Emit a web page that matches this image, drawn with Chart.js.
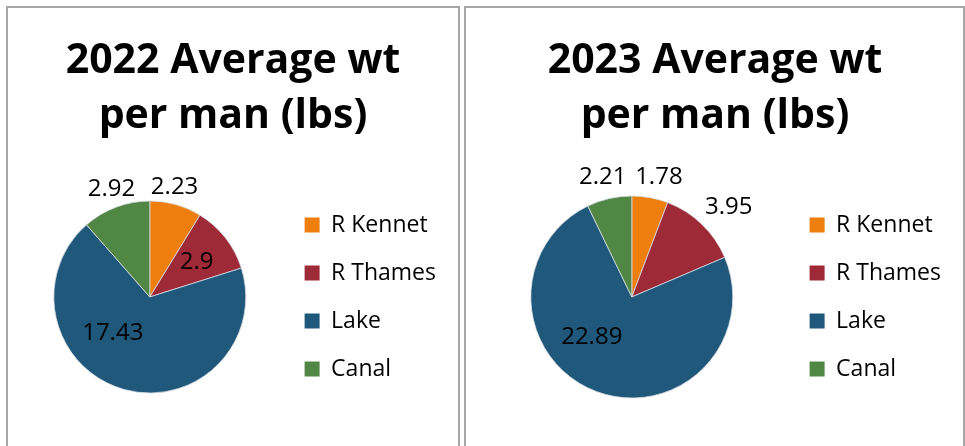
<!DOCTYPE html>
<html>
<head>
<meta charset="utf-8">
<script src="https://cdn.jsdelivr.net/npm/chart.js@4.4.1/dist/chart.umd.min.js"></script>
<style>
  html, body { margin: 0; padding: 0; background: #fff; overflow: hidden; }
  body { width: 965px; height: 446px; position: relative; }
  .panel { position: absolute; top: 6px; height: 460px; border: 2px solid #a6a6a6; background: #fff; }
  #p2022 { left: 6px; width: 450px; }
  #p2023 { left: 464px; width: 497px; }
  canvas { display: block; }
</style>
</head>
<body>
<div class="panel" id="p2022"><canvas id="c2022" width="450" height="440"></canvas></div>
<div class="panel" id="p2023"><canvas id="c2023" width="497" height="440"></canvas></div>
<script>
// venues, same order in both years
var venues = ["R Kennet", "R Thames", "Lake", "Canal"];
var wt2022 = [2.23, 2.9, 17.43, 2.92];
var wt2023 = [1.78, 3.95, 22.89, 2.21];
var title2022 = ["2022 Average wt", "per man (lbs)"];
var title2023 = ["2023 Average wt", "per man (lbs)"];
var sliceColors = ["#ee7e0d", "#9e2937", "#1f587b", "#518744"];

var FONT = "'Open Sans', 'Noto Sans', sans-serif";

// value labels: radius factor and small angle nudge (deg) per slice
var labelPos2022 = { r: [1.17, 0.61, 0.54, 1.19], nudge: [-3, 1, 30, 1] };
var labelPos2023 = { r: [1.22, 1.31, 0.56, 1.22], nudge: [2.3, 3.2, 24.5, -0.7] };

var valueLabels = {
    id: "valueLabels",
    afterDatasetsDraw: function(chart, args, opts) {
        var ctx = chart.ctx;
        var meta = chart.getDatasetMeta(0);
        var data = chart.data.datasets[0].data;
        ctx.save();
        ctx.font = "24px " + FONT;
        ctx.fillStyle = "#000";
        ctx.textAlign = "center";
        ctx.textBaseline = "middle";
        meta.data.forEach(function(arc, i) {
            var a = (arc.startAngle + arc.endAngle) / 2 + opts.nudge[i] * Math.PI / 180;
            var rr = arc.outerRadius * opts.r[i];
            ctx.fillText(String(data[i]), arc.x + Math.cos(a) * rr, arc.y + Math.sin(a) * rr);
        });
        ctx.restore();
    }
};

function makePie(id, values, title, radius, pad, labelPos) {
    var ctx = document.getElementById(id).getContext("2d");
    return new Chart(ctx, {
        type: "pie",
        data: {
            labels: venues,
            datasets: [{
                data: values,
                backgroundColor: sliceColors,
                borderColor: "#d8dde4",
                borderWidth: 0.8,
                radius: radius
            }]
        },
        options: {
            responsive: false,
            animation: false,
            devicePixelRatio: 1,
            layout: { padding: pad },
            plugins: {
                title: {
                    display: true,
                    text: title,
                    color: "#000",
                    font: { family: FONT, size: 41, weight: "bold", lineHeight: 1.341 },
                    padding: { top: 26, bottom: 4 }
                },
                legend: {
                    position: "right",
                    fullSize: false,
                    labels: {
                        boxWidth: 15,
                        boxHeight: 15,
                        padding: 25,
                        color: "#000",
                        font: { family: FONT, size: 23 },
                        generateLabels: function(chart) {
                            var items = Chart.overrides.pie.plugins.legend.labels.generateLabels(chart);
                            items.forEach(function(it) { it.lineWidth = 0; });
                            return items;
                        }
                    }
                },
                tooltip: { enabled: false },
                valueLabels: labelPos
            }
        },
        plugins: [valueLabels]
    });
}

makePie("c2022", wt2022, title2022, 96, { left: 12, right: 12, top: 0, bottom: 2 }, labelPos2022);
makePie("c2023", wt2023, title2023, 101, { left: 13, right: 12, top: 0, bottom: 2 }, labelPos2023);
</script>
</body>
</html>
